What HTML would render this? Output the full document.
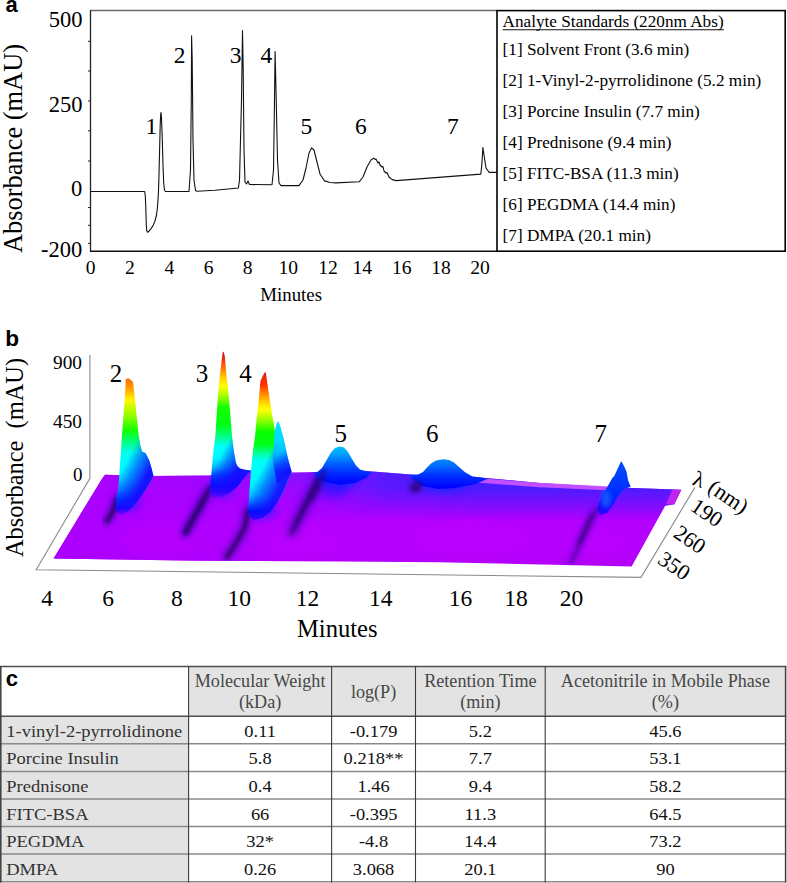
<!DOCTYPE html>
<html><head><meta charset="utf-8"><style>
html,body{margin:0;padding:0;background:#fff;overflow:hidden;width:787px;height:883px;}
svg{display:block;}
</style></head><body>
<svg width="787" height="883" viewBox="0 0 787 883">
<rect width="787" height="883" fill="#fff"/>
<text x="5.5" y="11.8" font-family='"Liberation Sans", sans-serif' font-size="22" text-anchor="start" font-weight="bold" fill="#000" >a</text>
<text x="5.3" y="346.4" font-family='"Liberation Sans", sans-serif' font-size="22.6" text-anchor="start" font-weight="bold" fill="#000" >b</text>
<text x="5.8" y="685.5" font-family='"Liberation Sans", sans-serif' font-size="22" text-anchor="start" font-weight="bold" fill="#000" >c</text>
<line x1="90.5" y1="10.6" x2="497" y2="10.6" stroke="#6a6a6a" stroke-width="1.5"/>
<line x1="90.5" y1="10" x2="90.5" y2="251.5" stroke="#222" stroke-width="1.3"/>
<line x1="90" y1="251.3" x2="497" y2="251.3" stroke="#111" stroke-width="1.4"/>
<line x1="88" y1="41.3" x2="90.5" y2="41.3" stroke="#222" stroke-width="1"/>
<line x1="88" y1="71" x2="90.5" y2="71" stroke="#222" stroke-width="1"/>
<line x1="88" y1="101" x2="90.5" y2="101" stroke="#222" stroke-width="1"/>
<line x1="88" y1="130.8" x2="90.5" y2="130.8" stroke="#222" stroke-width="1"/>
<line x1="88" y1="161" x2="90.5" y2="161" stroke="#222" stroke-width="1"/>
<line x1="88" y1="207.5" x2="90.5" y2="207.5" stroke="#222" stroke-width="1"/>
<line x1="88" y1="225.3" x2="90.5" y2="225.3" stroke="#222" stroke-width="1"/>
<line x1="88" y1="243.4" x2="90.5" y2="243.4" stroke="#222" stroke-width="1"/>
<text x="82.5" y="26.5" font-family='"Liberation Serif", serif' font-size="22.5" text-anchor="end" font-weight="normal" fill="#000" >500</text>
<text x="82.5" y="111.6" font-family='"Liberation Serif", serif' font-size="22.5" text-anchor="end" font-weight="normal" fill="#000" >250</text>
<text x="82.3" y="196" font-family='"Liberation Serif", serif' font-size="22.5" text-anchor="end" font-weight="normal" fill="#000" >0</text>
<text x="82.3" y="256.8" font-family='"Liberation Serif", serif' font-size="22.5" text-anchor="end" font-weight="normal" fill="#000" >-200</text>
<text x="90.6" y="274.4" font-family='"Liberation Serif", serif' font-size="19.6" text-anchor="middle" font-weight="normal" fill="#000" >0</text>
<text x="129.8" y="274.4" font-family='"Liberation Serif", serif' font-size="19.6" text-anchor="middle" font-weight="normal" fill="#000" >2</text>
<text x="169.5" y="274.4" font-family='"Liberation Serif", serif' font-size="19.6" text-anchor="middle" font-weight="normal" fill="#000" >4</text>
<text x="208.6" y="274.4" font-family='"Liberation Serif", serif' font-size="19.6" text-anchor="middle" font-weight="normal" fill="#000" >6</text>
<text x="247.7" y="274.4" font-family='"Liberation Serif", serif' font-size="19.6" text-anchor="middle" font-weight="normal" fill="#000" >8</text>
<text x="288.3" y="274.4" font-family='"Liberation Serif", serif' font-size="19.6" text-anchor="middle" font-weight="normal" fill="#000" >10</text>
<text x="328" y="274.4" font-family='"Liberation Serif", serif' font-size="19.6" text-anchor="middle" font-weight="normal" fill="#000" >12</text>
<text x="362.3" y="274.4" font-family='"Liberation Serif", serif' font-size="19.6" text-anchor="middle" font-weight="normal" fill="#000" >14</text>
<text x="401.7" y="274.4" font-family='"Liberation Serif", serif' font-size="19.6" text-anchor="middle" font-weight="normal" fill="#000" >16</text>
<text x="441" y="274.4" font-family='"Liberation Serif", serif' font-size="19.6" text-anchor="middle" font-weight="normal" fill="#000" >18</text>
<text x="480" y="274.4" font-family='"Liberation Serif", serif' font-size="19.6" text-anchor="middle" font-weight="normal" fill="#000" >20</text>
<text x="260.3" y="300.7" font-family='"Liberation Serif", serif' font-size="18.8" textLength="61.7" lengthAdjust="spacingAndGlyphs">Minutes</text>
<text transform="translate(21.7,253) rotate(-90)" x="0" y="0" font-family='"Liberation Serif", serif' font-size="28" textLength="209" lengthAdjust="spacingAndGlyphs">Absorbance (mAU)</text>
<path d="M91,191.5 L144.7,191.5 L145.3,196 L145.7,205 L146,215 L146.3,225 L146.8,231 L147.6,232.3 L149,231.2 L151,228.7 L153,225.6 L155,221 L156.3,216 L157.3,209 L158,200 L158.5,191 L159,175 L159.6,150 L160.2,125 L160.7,114 L161,112.5 L161.5,118 L162.3,140 L163,165 L163.7,183 L164.5,190 L165.5,191.5 L189,191.5 L190.5,170 L191.3,100 L191.6,35.9 L192.2,60 L193,140 L194,180 L195.5,190.5 L197,191.3 L215,190.3 L238.4,188 L239.5,180 L241.5,100 L242.5,30.6 L243.2,70 L244,150 L245,182 L246.5,184 L248,181 L249.5,184.5 L272,184.8 L273.5,170 L274.5,100 L275.1,51.6 L276,90 L277.5,160 L279,183 L281,185.6 L299,185.6 L303,180 L306,168 L309,153 L311.6,147.9 L314,150 L317,162 L320,174 L324.5,180.9 L330,182.5 L336,182.9 L359.2,181.8 L363,177 L367,167 L371,160 L373.7,158.1 L375,159.5 L376,159 L378,163 L379,162 L380,165 L382,167 L383,166.5 L384,171 L386,173 L387,172.5 L389,177 L392.2,179.6 L396.3,180.6 L480.8,174.1 L481.8,165 L482.9,147.5 L484,155 L486,168 L489.2,172.4 L497,172.4" fill="none" stroke="#111" stroke-width="1.1" stroke-linejoin="round"/>
<text x="145.4" y="134.1" font-family='"Liberation Serif", serif' font-size="23.5" text-anchor="start" font-weight="normal" fill="#000" >1</text>
<text x="173.8" y="62.8" font-family='"Liberation Serif", serif' font-size="23.5" text-anchor="start" font-weight="normal" fill="#000" >2</text>
<text x="229.8" y="62.8" font-family='"Liberation Serif", serif' font-size="23.5" text-anchor="start" font-weight="normal" fill="#000" >3</text>
<text x="260.4" y="62.8" font-family='"Liberation Serif", serif' font-size="23.5" text-anchor="start" font-weight="normal" fill="#000" >4</text>
<text x="300.5" y="134.4" font-family='"Liberation Serif", serif' font-size="23.5" text-anchor="start" font-weight="normal" fill="#000" >5</text>
<text x="355.1" y="134.4" font-family='"Liberation Serif", serif' font-size="23.5" text-anchor="start" font-weight="normal" fill="#000" >6</text>
<text x="447.1" y="134.2" font-family='"Liberation Serif", serif' font-size="23.5" text-anchor="start" font-weight="normal" fill="#000" >7</text>
<rect x="497" y="10.6" width="288.2" height="240.6" fill="none" stroke="#000" stroke-width="1.6"/>
<text x="502.6" y="27.3" font-family='"Liberation Serif", serif' font-size="17.2">Analyte Standards (220nm Abs)</text>
<line x1="502.6" y1="29.8" x2="723.9" y2="29.8" stroke="#111" stroke-width="1.1"/>
<text x="502.6" y="54.8" font-family='"Liberation Serif", serif' font-size="17.2" text-anchor="start" font-weight="normal" fill="#000" >[1] Solvent Front (3.6 min)</text>
<text x="502.6" y="85.9" font-family='"Liberation Serif", serif' font-size="17.2" text-anchor="start" font-weight="normal" fill="#000" >[2] 1-Vinyl-2-pyrrolidinone (5.2 min)</text>
<text x="502.6" y="117.0" font-family='"Liberation Serif", serif' font-size="17.2" text-anchor="start" font-weight="normal" fill="#000" >[3] Porcine Insulin (7.7 min)</text>
<text x="502.6" y="148.1" font-family='"Liberation Serif", serif' font-size="17.2" text-anchor="start" font-weight="normal" fill="#000" >[4] Prednisone (9.4 min)</text>
<text x="502.6" y="179.2" font-family='"Liberation Serif", serif' font-size="17.2" text-anchor="start" font-weight="normal" fill="#000" >[5] FITC-BSA (11.3 min)</text>
<text x="502.6" y="210.3" font-family='"Liberation Serif", serif' font-size="17.2" text-anchor="start" font-weight="normal" fill="#000" >[6] PEGDMA (14.4 min)</text>
<text x="502.6" y="241.4" font-family='"Liberation Serif", serif' font-size="17.2" text-anchor="start" font-weight="normal" fill="#000" >[7] DMPA (20.1 min)</text>
<rect x="188.6" y="666.5" width="597.0" height="49.799999999999955" fill="#e3e3e3"/>
<rect x="0.8" y="716.3" width="187.79999999999998" height="165.5" fill="#e3e3e3"/>
<line x1="0.20000000000000007" y1="666.5" x2="786.2" y2="666.5" stroke="#505050" stroke-width="1.4"/>
<line x1="0.20000000000000007" y1="716.3" x2="786.2" y2="716.3" stroke="#505050" stroke-width="1.4"/>
<line x1="0.20000000000000007" y1="743.8" x2="786.2" y2="743.8" stroke="#8a8a8a" stroke-width="1.4"/>
<line x1="0.20000000000000007" y1="771.5" x2="786.2" y2="771.5" stroke="#8a8a8a" stroke-width="1.4"/>
<line x1="0.20000000000000007" y1="799" x2="786.2" y2="799" stroke="#8a8a8a" stroke-width="1.4"/>
<line x1="0.20000000000000007" y1="826.5" x2="786.2" y2="826.5" stroke="#8a8a8a" stroke-width="1.4"/>
<line x1="0.20000000000000007" y1="854" x2="786.2" y2="854" stroke="#8a8a8a" stroke-width="1.4"/>
<line x1="0.20000000000000007" y1="881.8" x2="786.2" y2="881.8" stroke="#8a8a8a" stroke-width="1.4"/>
<line x1="0.8" y1="665.9" x2="0.8" y2="882.4" stroke="#3c3c3c" stroke-width="1.5"/>
<line x1="188.6" y1="665.9" x2="188.6" y2="882.4" stroke="#3c3c3c" stroke-width="1.1"/>
<line x1="331.6" y1="665.9" x2="331.6" y2="882.4" stroke="#3c3c3c" stroke-width="1.1"/>
<line x1="415.5" y1="665.9" x2="415.5" y2="882.4" stroke="#3c3c3c" stroke-width="1.1"/>
<line x1="545.2" y1="665.9" x2="545.2" y2="882.4" stroke="#3c3c3c" stroke-width="1.1"/>
<line x1="785.6" y1="665.9" x2="785.6" y2="882.4" stroke="#3c3c3c" stroke-width="1.5"/>
<text x="0" y="0" font-family='"Liberation Serif", serif' font-size="17.8" text-anchor="middle" font-weight="normal" fill="#474747" transform="translate(260.1,687.2) scale(1.02,1)">Molecular Weight</text>
<text x="0" y="0" font-family='"Liberation Serif", serif' font-size="17.8" text-anchor="middle" font-weight="normal" fill="#474747" transform="translate(260.1,708) scale(1.02,1)">(kDa)</text>
<text x="0" y="0" font-family='"Liberation Serif", serif' font-size="17.8" text-anchor="middle" font-weight="normal" fill="#474747" transform="translate(373.55,697.5) scale(1.02,1)">log(P)</text>
<text x="0" y="0" font-family='"Liberation Serif", serif' font-size="17.8" text-anchor="middle" font-weight="normal" fill="#474747" transform="translate(480.35,687.2) scale(1.02,1)">Retention Time</text>
<text x="0" y="0" font-family='"Liberation Serif", serif' font-size="17.8" text-anchor="middle" font-weight="normal" fill="#474747" transform="translate(480.35,708) scale(1.02,1)">(min)</text>
<text x="0" y="0" font-family='"Liberation Serif", serif' font-size="17.8" text-anchor="middle" font-weight="normal" fill="#474747" transform="translate(665.4000000000001,687.2) scale(1.02,1)">Acetonitrile in Mobile Phase</text>
<text x="0" y="0" font-family='"Liberation Serif", serif' font-size="17.8" text-anchor="middle" font-weight="normal" fill="#474747" transform="translate(665.4000000000001,708) scale(1.02,1)">(%)</text>
<text x="0" y="0" font-family='"Liberation Serif", serif' font-size="17.4" text-anchor="start" font-weight="normal" fill="#333" transform="translate(6.2,736.8) scale(1.065,1)">1-vinyl-2-pyrrolidinone</text>
<text x="0" y="0" font-family='"Liberation Serif", serif' font-size="17.4" text-anchor="middle" font-weight="normal" fill="#111" transform="translate(260.1,736.8) scale(1.06,1)">0.11</text>
<text x="0" y="0" font-family='"Liberation Serif", serif' font-size="17.4" text-anchor="middle" font-weight="normal" fill="#111" transform="translate(373.55,736.8) scale(1.06,1)">-0.179</text>
<text x="0" y="0" font-family='"Liberation Serif", serif' font-size="17.4" text-anchor="middle" font-weight="normal" fill="#111" transform="translate(480.35,736.8) scale(1.06,1)">5.2</text>
<text x="0" y="0" font-family='"Liberation Serif", serif' font-size="17.4" text-anchor="middle" font-weight="normal" fill="#111" transform="translate(665.4000000000001,736.8) scale(1.06,1)">45.6</text>
<text x="0" y="0" font-family='"Liberation Serif", serif' font-size="17.4" text-anchor="start" font-weight="normal" fill="#333" transform="translate(6.2,764.3) scale(1.065,1)">Porcine Insulin</text>
<text x="0" y="0" font-family='"Liberation Serif", serif' font-size="17.4" text-anchor="middle" font-weight="normal" fill="#111" transform="translate(260.1,764.3) scale(1.06,1)">5.8</text>
<text x="0" y="0" font-family='"Liberation Serif", serif' font-size="17.4" text-anchor="middle" font-weight="normal" fill="#111" transform="translate(373.55,764.3) scale(1.06,1)">0.218**</text>
<text x="0" y="0" font-family='"Liberation Serif", serif' font-size="17.4" text-anchor="middle" font-weight="normal" fill="#111" transform="translate(480.35,764.3) scale(1.06,1)">7.7</text>
<text x="0" y="0" font-family='"Liberation Serif", serif' font-size="17.4" text-anchor="middle" font-weight="normal" fill="#111" transform="translate(665.4000000000001,764.3) scale(1.06,1)">53.1</text>
<text x="0" y="0" font-family='"Liberation Serif", serif' font-size="17.4" text-anchor="start" font-weight="normal" fill="#333" transform="translate(6.2,792.0) scale(1.065,1)">Prednisone</text>
<text x="0" y="0" font-family='"Liberation Serif", serif' font-size="17.4" text-anchor="middle" font-weight="normal" fill="#111" transform="translate(260.1,792.0) scale(1.06,1)">0.4</text>
<text x="0" y="0" font-family='"Liberation Serif", serif' font-size="17.4" text-anchor="middle" font-weight="normal" fill="#111" transform="translate(373.55,792.0) scale(1.06,1)">1.46</text>
<text x="0" y="0" font-family='"Liberation Serif", serif' font-size="17.4" text-anchor="middle" font-weight="normal" fill="#111" transform="translate(480.35,792.0) scale(1.06,1)">9.4</text>
<text x="0" y="0" font-family='"Liberation Serif", serif' font-size="17.4" text-anchor="middle" font-weight="normal" fill="#111" transform="translate(665.4000000000001,792.0) scale(1.06,1)">58.2</text>
<text x="0" y="0" font-family='"Liberation Serif", serif' font-size="17.4" text-anchor="start" font-weight="normal" fill="#333" transform="translate(6.2,819.5) scale(1.065,1)">FITC-BSA</text>
<text x="0" y="0" font-family='"Liberation Serif", serif' font-size="17.4" text-anchor="middle" font-weight="normal" fill="#111" transform="translate(260.1,819.5) scale(1.06,1)">66</text>
<text x="0" y="0" font-family='"Liberation Serif", serif' font-size="17.4" text-anchor="middle" font-weight="normal" fill="#111" transform="translate(373.55,819.5) scale(1.06,1)">-0.395</text>
<text x="0" y="0" font-family='"Liberation Serif", serif' font-size="17.4" text-anchor="middle" font-weight="normal" fill="#111" transform="translate(480.35,819.5) scale(1.06,1)">11.3</text>
<text x="0" y="0" font-family='"Liberation Serif", serif' font-size="17.4" text-anchor="middle" font-weight="normal" fill="#111" transform="translate(665.4000000000001,819.5) scale(1.06,1)">64.5</text>
<text x="0" y="0" font-family='"Liberation Serif", serif' font-size="17.4" text-anchor="start" font-weight="normal" fill="#333" transform="translate(6.2,847.0) scale(1.065,1)">PEGDMA</text>
<text x="0" y="0" font-family='"Liberation Serif", serif' font-size="17.4" text-anchor="middle" font-weight="normal" fill="#111" transform="translate(260.1,847.0) scale(1.06,1)">32*</text>
<text x="0" y="0" font-family='"Liberation Serif", serif' font-size="17.4" text-anchor="middle" font-weight="normal" fill="#111" transform="translate(373.55,847.0) scale(1.06,1)">-4.8</text>
<text x="0" y="0" font-family='"Liberation Serif", serif' font-size="17.4" text-anchor="middle" font-weight="normal" fill="#111" transform="translate(480.35,847.0) scale(1.06,1)">14.4</text>
<text x="0" y="0" font-family='"Liberation Serif", serif' font-size="17.4" text-anchor="middle" font-weight="normal" fill="#111" transform="translate(665.4000000000001,847.0) scale(1.06,1)">73.2</text>
<text x="0" y="0" font-family='"Liberation Serif", serif' font-size="17.4" text-anchor="start" font-weight="normal" fill="#333" transform="translate(6.2,874.5) scale(1.065,1)">DMPA</text>
<text x="0" y="0" font-family='"Liberation Serif", serif' font-size="17.4" text-anchor="middle" font-weight="normal" fill="#111" transform="translate(260.1,874.5) scale(1.06,1)">0.26</text>
<text x="0" y="0" font-family='"Liberation Serif", serif' font-size="17.4" text-anchor="middle" font-weight="normal" fill="#111" transform="translate(373.55,874.5) scale(1.06,1)">3.068</text>
<text x="0" y="0" font-family='"Liberation Serif", serif' font-size="17.4" text-anchor="middle" font-weight="normal" fill="#111" transform="translate(480.35,874.5) scale(1.06,1)">20.1</text>
<text x="0" y="0" font-family='"Liberation Serif", serif' font-size="17.4" text-anchor="middle" font-weight="normal" fill="#111" transform="translate(665.4000000000001,874.5) scale(1.06,1)">90</text>
<defs><filter id="bl05" x="-50%" y="-50%" width="200%" height="200%"><feGaussianBlur stdDeviation="0.6"/></filter><filter id="bl1" x="-50%" y="-50%" width="200%" height="200%"><feGaussianBlur stdDeviation="1.2"/></filter><filter id="bl2" x="-50%" y="-50%" width="200%" height="200%"><feGaussianBlur stdDeviation="2.2"/></filter><filter id="bl3" x="-50%" y="-50%" width="200%" height="200%"><feGaussianBlur stdDeviation="3.2"/></filter><filter id="bl4" x="-50%" y="-50%" width="200%" height="200%"><feGaussianBlur stdDeviation="4.5"/></filter><linearGradient id="plane" gradientUnits="userSpaceOnUse" x1="0" y1="476" x2="0" y2="563"><stop offset="0" stop-color="#8a10ff" stop-opacity="1"/><stop offset="0.3" stop-color="#a404ff" stop-opacity="1"/><stop offset="0.56" stop-color="#b600ff" stop-opacity="1"/><stop offset="1" stop-color="#b400fa" stop-opacity="1"/></linearGradient><linearGradient id="planeL" gradientUnits="userSpaceOnUse" x1="70" y1="0" x2="300" y2="0"><stop offset="0" stop-color="#ac00ff" stop-opacity="1"/><stop offset="0.5" stop-color="#ac00ff" stop-opacity="0.7"/><stop offset="1" stop-color="#ac00ff" stop-opacity="0"/></linearGradient><linearGradient id="btint" gradientUnits="userSpaceOnUse" x1="0" y1="486" x2="0" y2="520"><stop offset="0" stop-color="#3a20ff" stop-opacity="0.85"/><stop offset="0.4" stop-color="#3a20ff" stop-opacity="0.5"/><stop offset="1" stop-color="#3a20ff" stop-opacity="0"/></linearGradient><linearGradient id="bmask" gradientUnits="userSpaceOnUse" x1="300" y1="0" x2="470" y2="0"><stop offset="0" stop-color="#fff" stop-opacity="0"/><stop offset="0.5" stop-color="#fff" stop-opacity="0.75"/><stop offset="1" stop-color="#fff" stop-opacity="1"/></linearGradient><mask id="bm" maskUnits="userSpaceOnUse" x="0" y="0" width="787" height="883"><rect x="0" y="440" width="787" height="140" fill="url(#bmask)"/></mask><linearGradient id="p2" gradientUnits="userSpaceOnUse" x1="0" y1="378" x2="0" y2="518"><stop offset="0.0" stop-color="#ff6600" stop-opacity="1"/><stop offset="0.0857" stop-color="#ffaa00" stop-opacity="1"/><stop offset="0.1571" stop-color="#fff700" stop-opacity="1"/><stop offset="0.2643" stop-color="#95ff00" stop-opacity="1"/><stop offset="0.3714" stop-color="#15ff00" stop-opacity="1"/><stop offset="0.4571" stop-color="#00ff80" stop-opacity="1"/><stop offset="0.5286" stop-color="#00ffea" stop-opacity="1"/><stop offset="0.6214" stop-color="#00fbff" stop-opacity="1"/><stop offset="0.7143" stop-color="#00eaff" stop-opacity="1"/><stop offset="0.8" stop-color="#00aaff" stop-opacity="1"/><stop offset="0.8714" stop-color="#0040ff" stop-opacity="1"/><stop offset="0.9286" stop-color="#1500ff" stop-opacity="0.85"/><stop offset="1.0" stop-color="#5d00ff" stop-opacity="0"/></linearGradient><linearGradient id="p2d" gradientUnits="userSpaceOnUse" x1="124" y1="466" x2="146" y2="477"><stop offset="0" stop-color="#0818ff" stop-opacity="0"/><stop offset="0.4" stop-color="#0818ff" stop-opacity="0.45"/><stop offset="1" stop-color="#1808ff" stop-opacity="0.95"/></linearGradient><linearGradient id="m2g" gradientUnits="userSpaceOnUse" x1="0" y1="500" x2="0" y2="517"><stop offset="0" stop-color="#fff" stop-opacity="1"/><stop offset="1" stop-color="#fff" stop-opacity="0"/></linearGradient><mask id="m2" maskUnits="userSpaceOnUse" x="0" y="300" width="787" height="300"><rect x="0" y="300" width="787" height="300" fill="url(#m2g)"/></mask><linearGradient id="p3" gradientUnits="userSpaceOnUse" x1="0" y1="352" x2="0" y2="500"><stop offset="0.0" stop-color="#c81c1c" stop-opacity="1"/><stop offset="0.0473" stop-color="#ee2a0a" stop-opacity="1"/><stop offset="0.1081" stop-color="#ff7700" stop-opacity="1"/><stop offset="0.1689" stop-color="#ffcc00" stop-opacity="1"/><stop offset="0.2297" stop-color="#ffff00" stop-opacity="1"/><stop offset="0.2973" stop-color="#a2ff00" stop-opacity="1"/><stop offset="0.3716" stop-color="#15ff00" stop-opacity="1"/><stop offset="0.4932" stop-color="#00ff15" stop-opacity="1"/><stop offset="0.5676" stop-color="#00ff80" stop-opacity="1"/><stop offset="0.6351" stop-color="#00fff7" stop-opacity="1"/><stop offset="0.7162" stop-color="#00f7ff" stop-opacity="1"/><stop offset="0.777" stop-color="#00bfff" stop-opacity="1"/><stop offset="0.8378" stop-color="#0040ff" stop-opacity="1"/><stop offset="0.9054" stop-color="#1500ff" stop-opacity="1"/><stop offset="0.9527" stop-color="#4000ff" stop-opacity="0.8"/><stop offset="1.0" stop-color="#6a00ff" stop-opacity="0"/></linearGradient><linearGradient id="p3d" gradientUnits="userSpaceOnUse" x1="217" y1="462" x2="236" y2="472"><stop offset="0" stop-color="#0818ff" stop-opacity="0"/><stop offset="0.4" stop-color="#0818ff" stop-opacity="0.45"/><stop offset="1" stop-color="#1808ff" stop-opacity="0.92"/></linearGradient><linearGradient id="m3g" gradientUnits="userSpaceOnUse" x1="0" y1="484" x2="0" y2="499"><stop offset="0" stop-color="#fff" stop-opacity="1"/><stop offset="1" stop-color="#fff" stop-opacity="0"/></linearGradient><mask id="m3" maskUnits="userSpaceOnUse" x="0" y="300" width="787" height="300"><rect x="0" y="300" width="787" height="300" fill="url(#m3g)"/></mask><linearGradient id="p4" gradientUnits="userSpaceOnUse" x1="0" y1="372" x2="0" y2="528"><stop offset="0.0" stop-color="#d81c12" stop-opacity="1"/><stop offset="0.0385" stop-color="#f02a08" stop-opacity="1"/><stop offset="0.0833" stop-color="#ff3300" stop-opacity="1"/><stop offset="0.1346" stop-color="#ff8000" stop-opacity="1"/><stop offset="0.2115" stop-color="#ffea00" stop-opacity="1"/><stop offset="0.2436" stop-color="#ffff00" stop-opacity="1"/><stop offset="0.3077" stop-color="#95ff00" stop-opacity="1"/><stop offset="0.3846" stop-color="#08ff00" stop-opacity="1"/><stop offset="0.4615" stop-color="#00ff15" stop-opacity="1"/><stop offset="0.5192" stop-color="#00ff95" stop-opacity="1"/><stop offset="0.5705" stop-color="#00fff7" stop-opacity="1"/><stop offset="0.6923" stop-color="#00f7ff" stop-opacity="1"/><stop offset="0.7885" stop-color="#00d4ff" stop-opacity="1"/><stop offset="0.8397" stop-color="#0080ff" stop-opacity="1"/><stop offset="0.891" stop-color="#0008ff" stop-opacity="1"/><stop offset="0.9487" stop-color="#4000ff" stop-opacity="0.8"/><stop offset="1.0" stop-color="#6a00ff" stop-opacity="0"/></linearGradient><linearGradient id="p4d" gradientUnits="userSpaceOnUse" x1="257" y1="478" x2="279" y2="489"><stop offset="0" stop-color="#0818ff" stop-opacity="0"/><stop offset="0.4" stop-color="#0818ff" stop-opacity="0.45"/><stop offset="1" stop-color="#1808ff" stop-opacity="0.92"/></linearGradient><linearGradient id="m4g" gradientUnits="userSpaceOnUse" x1="0" y1="508" x2="0" y2="527"><stop offset="0" stop-color="#fff" stop-opacity="1"/><stop offset="1" stop-color="#fff" stop-opacity="0"/></linearGradient><mask id="m4" maskUnits="userSpaceOnUse" x="0" y="300" width="787" height="300"><rect x="0" y="300" width="787" height="300" fill="url(#m4g)"/></mask><linearGradient id="p4b" gradientUnits="userSpaceOnUse" x1="0" y1="420" x2="0" y2="472"><stop offset="0.0" stop-color="#00e5ff" stop-opacity="1"/><stop offset="0.3846" stop-color="#00d9ff" stop-opacity="1"/><stop offset="0.6154" stop-color="#00bfff" stop-opacity="1"/><stop offset="0.8077" stop-color="#0080ff" stop-opacity="1"/><stop offset="1.0" stop-color="#0033ff" stop-opacity="1"/></linearGradient><linearGradient id="p4bd" gradientUnits="userSpaceOnUse" x1="278" y1="455" x2="292" y2="468"><stop offset="0" stop-color="#0818ff" stop-opacity="0"/><stop offset="1" stop-color="#1808ff" stop-opacity="0.8"/></linearGradient><linearGradient id="p5" gradientUnits="userSpaceOnUse" x1="0" y1="446" x2="0" y2="482"><stop offset="0" stop-color="#00c3ff" stop-opacity="1"/><stop offset="0.22" stop-color="#00a2ff" stop-opacity="1"/><stop offset="0.5" stop-color="#005eff" stop-opacity="1"/><stop offset="0.8" stop-color="#0022ff" stop-opacity="1"/><stop offset="1" stop-color="#0008ff" stop-opacity="1"/></linearGradient><linearGradient id="p6" gradientUnits="userSpaceOnUse" x1="0" y1="459" x2="0" y2="488"><stop offset="0" stop-color="#008cff" stop-opacity="1"/><stop offset="0.25" stop-color="#006aff" stop-opacity="1"/><stop offset="0.55" stop-color="#0033ff" stop-opacity="1"/><stop offset="1" stop-color="#0000ff" stop-opacity="1"/></linearGradient><linearGradient id="p7" gradientUnits="userSpaceOnUse" x1="0" y1="461" x2="0" y2="525"><stop offset="0" stop-color="#004cff" stop-opacity="1"/><stop offset="0.3" stop-color="#003cff" stop-opacity="1"/><stop offset="0.6" stop-color="#0022ff" stop-opacity="1"/><stop offset="0.85" stop-color="#1500ff" stop-opacity="0.8"/><stop offset="1" stop-color="#5d00ff" stop-opacity="0"/></linearGradient></defs>
<path d="M89.9,355.1 L89.9,478.4 L36.2,569.7 L641,577.4 L694.9,487.4" fill="none" stroke="#8a8a8a" stroke-width="1.1"/>
<clipPath id="planeclip"><path d="M105.0,474.7 L150.0,476.0 L209.0,475.5 L214.0,475.0 L236.0,470.2 L252.0,470.6 L290.0,472.5 L318.0,472.0 L363.4,470.7 L414.0,474.7 L480.0,477.4 L539.1,483.0 L605.2,486.9 L681.2,489.8 L674.3,504.2 L665.2,505.7 L631.6,566.5 L440.0,562.2 L340.0,561.5 L200.0,560.8 L53.6,558.4 L102.2,478.4Z"/></clipPath>
<path d="M105.0,474.7 L150.0,476.0 L209.0,475.5 L214.0,475.0 L236.0,470.2 L252.0,470.6 L290.0,472.5 L318.0,472.0 L363.4,470.7 L414.0,474.7 L480.0,477.4 L539.1,483.0 L605.2,486.9 L681.2,489.8 L674.3,504.2 L665.2,505.7 L631.6,566.5 L440.0,562.2 L340.0,561.5 L200.0,560.8 L53.6,558.4 L102.2,478.4Z" fill="url(#plane)" />
<path d="M105.0,474.7 L150.0,476.0 L209.0,475.5 L214.0,475.0 L236.0,470.2 L252.0,470.6 L290.0,472.5 L318.0,472.0 L363.4,470.7 L414.0,474.7 L480.0,477.4 L539.1,483.0 L605.2,486.9 L681.2,489.8 L674.3,504.2 L665.2,505.7 L631.6,566.5 L440.0,562.2 L340.0,561.5 L200.0,560.8 L53.6,558.4 L102.2,478.4Z" fill="url(#planeL)" />
<g clip-path="url(#planeclip)">
<path d="M280.0,465.0 L700.0,465.0 L700.0,560.0 L280.0,560.0Z" fill="url(#btint)" mask="url(#bm)"/>
<ellipse cx="160" cy="540" rx="40" ry="18" fill="#c400ff" opacity="0.35" filter="url(#bl4)"/>
<ellipse cx="300" cy="545" rx="40" ry="16" fill="#c400ff" opacity="0.35" filter="url(#bl4)"/>
<ellipse cx="470" cy="540" rx="60" ry="18" fill="#c400ff" opacity="0.35" filter="url(#bl4)"/>
<ellipse cx="600" cy="545" rx="25" ry="15" fill="#c400ff" opacity="0.35" filter="url(#bl4)"/>
</g>
<path d="M470.0,477.4 L539.1,482.8 L612.0,486.6 L612.0,490.5 L539.0,487.3 L470.0,482.0Z" fill="#d858ff" opacity="0.85" filter="url(#bl05)"/>
<path d="M672.0,490.0 L681.2,490.0 L674.3,504.2 L666.0,504.2Z" fill="#c224f2" />
<g clip-path="url(#planeclip)">
<path d="M117.0,499.0 L113.0,511.0 L107.0,521.0" fill="none" stroke="#4010c0" stroke-width="10.920000000000002" stroke-linecap="round" stroke-linejoin="round" opacity="0.4275" filter="url(#bl3)"/>
<path d="M117.0,499.0 L113.0,511.0 L107.0,521.0" fill="none" stroke="#32006a" stroke-width="4.620000000000001" stroke-linecap="round" stroke-linejoin="round" opacity="0.9974999999999999" filter="url(#bl2)"/>
<path d="M117.0,499.0 L113.0,511.0 L107.0,521.0" fill="none" stroke="#32006a" stroke-width="1.8900000000000001" stroke-linecap="round" stroke-linejoin="round" opacity="0.285" filter="url(#bl05)"/>
</g>
<g clip-path="url(#planeclip)"><ellipse cx="128" cy="502" rx="12" ry="10" fill="#1020ff" opacity="0.55" filter="url(#bl3)"/></g>
<path d="M125.8,379.0 L128.5,378.3 L133.0,381.8 L135.7,406.2 L138.4,433.3 L140.5,446.0 L142.1,451.4 L145.7,453.3 L149.3,460.5 L151.5,468.0 L153.5,476.0 L148.0,486.0 L142.0,495.0 L135.0,504.0 L128.0,511.0 L120.0,515.0 L115.5,510.0 L116.5,500.0 L118.5,485.8 L120.3,460.5 L122.1,433.3 L124.9,397.1Z" fill="url(#p2)" />
<path d="M125.8,379.0 L128.5,378.3 L133.0,381.8 L135.7,406.2 L138.4,433.3 L140.5,446.0 L142.1,451.4 L145.7,453.3 L149.3,460.5 L151.5,468.0 L153.5,476.0 L148.0,486.0 L142.0,495.0 L135.0,504.0 L128.0,511.0 L120.0,515.0 L115.5,510.0 L116.5,500.0 L118.5,485.8 L120.3,460.5 L122.1,433.3 L124.9,397.1Z" fill="url(#p2d)" mask="url(#m2)"/>
<g clip-path="url(#planeclip)">
<path d="M210.0,488.0 L200.0,507.0 L192.0,520.0 L185.0,533.0" fill="none" stroke="#4010c0" stroke-width="11.440000000000001" stroke-linecap="round" stroke-linejoin="round" opacity="0.3825" filter="url(#bl3)"/>
<path d="M210.0,488.0 L200.0,507.0 L192.0,520.0 L185.0,533.0" fill="none" stroke="#32006a" stroke-width="4.840000000000001" stroke-linecap="round" stroke-linejoin="round" opacity="0.8925" filter="url(#bl2)"/>
<path d="M210.0,488.0 L200.0,507.0 L192.0,520.0 L185.0,533.0" fill="none" stroke="#32006a" stroke-width="1.9800000000000002" stroke-linecap="round" stroke-linejoin="round" opacity="0.255" filter="url(#bl05)"/>
</g>
<g clip-path="url(#planeclip)">
<path d="M204.0,498.0 L195.0,515.0 L187.0,532.0" fill="none" stroke="#4010c0" stroke-width="7.800000000000001" stroke-linecap="round" stroke-linejoin="round" opacity="0.27" filter="url(#bl3)"/>
<path d="M204.0,498.0 L195.0,515.0 L187.0,532.0" fill="none" stroke="#2a0062" stroke-width="3.3000000000000003" stroke-linecap="round" stroke-linejoin="round" opacity="0.63" filter="url(#bl2)"/>
<path d="M204.0,498.0 L195.0,515.0 L187.0,532.0" fill="none" stroke="#2a0062" stroke-width="1.35" stroke-linecap="round" stroke-linejoin="round" opacity="0.18" filter="url(#bl05)"/>
</g>
<g clip-path="url(#planeclip)"><ellipse cx="221" cy="490" rx="12" ry="8" fill="#1020ff" opacity="0.5" filter="url(#bl3)"/></g>
<path d="M222.6,352.5 L223.6,351.5 L224.8,356.0 L226.5,375.0 L228.3,390.9 L230.0,410.0 L232.1,436.7 L234.0,452.0 L235.9,462.7 L237.5,466.2 L240.0,468.4 L245.0,469.8 L251.0,470.8 L247.0,474.5 L243.0,479.0 L238.0,486.0 L231.0,492.0 L222.0,497.0 L214.0,497.5 L210.5,494.0 L210.0,488.7 L211.5,471.9 L213.5,450.0 L215.3,436.7 L217.0,410.0 L218.3,390.9 L220.5,370.0Z" fill="url(#p3)" />
<path d="M222.6,352.5 L223.6,351.5 L224.8,356.0 L226.5,375.0 L228.3,390.9 L230.0,410.0 L232.1,436.7 L234.0,452.0 L235.9,462.7 L237.5,466.2 L240.0,468.4 L245.0,469.8 L251.0,470.8 L247.0,474.5 L243.0,479.0 L238.0,486.0 L231.0,492.0 L222.0,497.0 L214.0,497.5 L210.5,494.0 L210.0,488.7 L211.5,471.9 L213.5,450.0 L215.3,436.7 L217.0,410.0 L218.3,390.9 L220.5,370.0Z" fill="url(#p3d)" mask="url(#m3)"/>
<g clip-path="url(#planeclip)">
<path d="M248.0,510.0 L244.7,527.8 L236.0,543.0 L227.0,557.0" fill="none" stroke="#4010c0" stroke-width="11.959999999999999" stroke-linecap="round" stroke-linejoin="round" opacity="0.3825" filter="url(#bl3)"/>
<path d="M248.0,510.0 L244.7,527.8 L236.0,543.0 L227.0,557.0" fill="none" stroke="#32006a" stroke-width="5.06" stroke-linecap="round" stroke-linejoin="round" opacity="0.8925" filter="url(#bl2)"/>
<path d="M248.0,510.0 L244.7,527.8 L236.0,543.0 L227.0,557.0" fill="none" stroke="#32006a" stroke-width="2.07" stroke-linecap="round" stroke-linejoin="round" opacity="0.255" filter="url(#bl05)"/>
</g>
<g clip-path="url(#planeclip)"><ellipse cx="262" cy="510" rx="14" ry="10" fill="#1020ff" opacity="0.5" filter="url(#bl3)"/></g>
<path d="M264.5,372.8 L265.8,372.0 L267.3,383.2 L269.5,398.0 L271.9,413.8 L273.5,422.0 L274.9,430.6 L277.5,445.0 L280.0,460.0 L283.0,470.0 L291.7,472.5 L288.0,480.0 L283.0,492.0 L277.0,503.0 L270.0,512.0 L262.0,518.0 L254.0,520.0 L249.0,516.0 L248.3,510.0 L249.5,490.0 L251.0,470.0 L253.0,450.0 L255.0,436.7 L256.5,420.0 L258.1,406.2 L259.5,392.0 L260.4,380.9 L262.5,376.5Z" fill="url(#p4)" />
<path d="M264.5,372.8 L265.8,372.0 L267.3,383.2 L269.5,398.0 L271.9,413.8 L273.5,422.0 L274.9,430.6 L277.5,445.0 L280.0,460.0 L283.0,470.0 L291.7,472.5 L288.0,480.0 L283.0,492.0 L277.0,503.0 L270.0,512.0 L262.0,518.0 L254.0,520.0 L249.0,516.0 L248.3,510.0 L249.5,490.0 L251.0,470.0 L253.0,450.0 L255.0,436.7 L256.5,420.0 L258.1,406.2 L259.5,392.0 L260.4,380.9 L262.5,376.5Z" fill="url(#p4d)" mask="url(#m4)"/>
<path d="M274.5,432.0 L276.5,424.0 L278.3,420.7 L280.5,427.0 L283.3,436.7 L285.5,447.0 L287.9,458.1 L290.0,466.0 L291.7,471.9 L285.0,478.0 L277.0,484.0 L273.0,460.0Z" fill="url(#p4b)" />
<path d="M274.5,432.0 L276.5,424.0 L278.3,420.7 L280.5,427.0 L283.3,436.7 L285.5,447.0 L287.9,458.1 L290.0,466.0 L291.7,471.9 L285.0,478.0 L277.0,484.0 L273.0,460.0Z" fill="url(#p4bd)" />
<g clip-path="url(#planeclip)">
<path d="M322.0,474.0 L312.0,492.0 L302.0,512.0 L292.0,532.0" fill="none" stroke="#4010c0" stroke-width="15.600000000000001" stroke-linecap="round" stroke-linejoin="round" opacity="0.27" filter="url(#bl3)"/>
<path d="M322.0,474.0 L312.0,492.0 L302.0,512.0 L292.0,532.0" fill="none" stroke="#36007e" stroke-width="6.6000000000000005" stroke-linecap="round" stroke-linejoin="round" opacity="0.63" filter="url(#bl2)"/>
<path d="M322.0,474.0 L312.0,492.0 L302.0,512.0 L292.0,532.0" fill="none" stroke="#36007e" stroke-width="2.7" stroke-linecap="round" stroke-linejoin="round" opacity="0.18" filter="url(#bl05)"/>
</g>
<g clip-path="url(#planeclip)">
<path d="M320.0,478.0 L311.0,494.0 L303.0,510.0 L296.0,524.0" fill="none" stroke="#4010c0" stroke-width="6.760000000000001" stroke-linecap="round" stroke-linejoin="round" opacity="0.27" filter="url(#bl3)"/>
<path d="M320.0,478.0 L311.0,494.0 L303.0,510.0 L296.0,524.0" fill="none" stroke="#2c0066" stroke-width="2.8600000000000003" stroke-linecap="round" stroke-linejoin="round" opacity="0.63" filter="url(#bl2)"/>
<path d="M320.0,478.0 L311.0,494.0 L303.0,510.0 L296.0,524.0" fill="none" stroke="#2c0066" stroke-width="1.1700000000000002" stroke-linecap="round" stroke-linejoin="round" opacity="0.18" filter="url(#bl05)"/>
</g>
<g clip-path="url(#planeclip)"><ellipse cx="338" cy="479" rx="20" ry="11" fill="#1428ff" opacity="0.85" filter="url(#bl3)"/></g>
<g clip-path="url(#planeclip)"><ellipse cx="333" cy="490" rx="14" ry="9" fill="#3010ff" opacity="0.5" filter="url(#bl3)"/></g>
<path d="M314.0,473.0 L318.0,471.5 L322.0,468.0 L326.0,461.0 L331.0,452.5 L335.0,448.0 L339.9,446.5 L344.0,447.5 L348.0,452.0 L352.0,459.0 L356.0,465.5 L360.0,469.5 L365.0,471.0 L372.0,472.5 L366.0,478.0 L355.0,483.0 L340.0,485.0 L325.0,482.0 L318.0,478.0Z" fill="url(#p5)" />
<clipPath id="cp5u"><path d="M314.0,473.0 L318.0,471.5 L322.0,468.0 L326.0,461.0 L331.0,452.5 L335.0,448.0 L339.9,446.5 L344.0,447.5 L348.0,452.0 L352.0,459.0 L356.0,465.5 L360.0,469.5 L365.0,471.0 L372.0,472.5 L366.0,478.0 L355.0,483.0 L340.0,485.0 L325.0,482.0 L318.0,478.0Z"/><path d="M105.0,474.7 L150.0,476.0 L209.0,475.5 L214.0,475.0 L236.0,470.2 L252.0,470.6 L290.0,472.5 L318.0,472.0 L363.4,470.7 L414.0,474.7 L480.0,477.4 L539.1,483.0 L605.2,486.9 L681.2,489.8 L674.3,504.2 L665.2,505.7 L631.6,566.5 L440.0,562.2 L340.0,561.5 L200.0,560.8 L53.6,558.4 L102.2,478.4Z"/></clipPath>
<g clip-path="url(#cp5u)">
<path d="M322,468 L317,480 L311,493 L309,501 L314,502 L320,490 L326,477 L327,470Z" fill="#2c0078" opacity="0.55" filter="url(#bl2)"/>
</g>
<g clip-path="url(#planeclip)"><ellipse cx="444" cy="482" rx="24" ry="10" fill="#1428ff" opacity="0.8" filter="url(#bl3)"/></g>
<path d="M410.0,475.0 L418.0,474.5 L423.0,472.0 L427.0,467.5 L431.0,463.5 L436.0,460.5 L443.4,459.3 L449.0,460.0 L454.0,462.5 L459.0,467.0 L464.8,472.0 L472.0,476.2 L480.0,477.6 L488.0,478.4 L476.0,484.0 L455.0,488.0 L438.0,489.0 L422.0,486.0 L413.0,480.0Z" fill="url(#p6)" />
<g clip-path="url(#planeclip)"><ellipse cx="416" cy="487" rx="7" ry="6" transform="rotate(-40 416 487)" fill="#2a0070" opacity="0.7" filter="url(#bl2)"/></g>
<g clip-path="url(#planeclip)">
<path d="M598.0,508.0 L591.0,520.0 L584.0,535.0 L577.0,550.0 L571.0,562.0" fill="none" stroke="#4010c0" stroke-width="10.4" stroke-linecap="round" stroke-linejoin="round" opacity="0.2025" filter="url(#bl3)"/>
<path d="M598.0,508.0 L591.0,520.0 L584.0,535.0 L577.0,550.0 L571.0,562.0" fill="none" stroke="#3a0088" stroke-width="4.4" stroke-linecap="round" stroke-linejoin="round" opacity="0.47250000000000003" filter="url(#bl2)"/>
<path d="M598.0,508.0 L591.0,520.0 L584.0,535.0 L577.0,550.0 L571.0,562.0" fill="none" stroke="#3a0088" stroke-width="1.8" stroke-linecap="round" stroke-linejoin="round" opacity="0.135" filter="url(#bl05)"/>
</g>
<g clip-path="url(#planeclip)">
<path d="M592.0,515.0 L585.0,530.0 L579.0,543.0" fill="none" stroke="#4010c0" stroke-width="5.720000000000001" stroke-linecap="round" stroke-linejoin="round" opacity="0.315" filter="url(#bl3)"/>
<path d="M592.0,515.0 L585.0,530.0 L579.0,543.0" fill="none" stroke="#2c0066" stroke-width="2.4200000000000004" stroke-linecap="round" stroke-linejoin="round" opacity="0.735" filter="url(#bl2)"/>
<path d="M592.0,515.0 L585.0,530.0 L579.0,543.0" fill="none" stroke="#2c0066" stroke-width="0.9900000000000001" stroke-linecap="round" stroke-linejoin="round" opacity="0.21" filter="url(#bl05)"/>
</g>
<path d="M620.6,462.2 L621.6,461.5 L624.0,466.0 L626.6,471.8 L628.0,479.9 L630.7,486.7 L624.0,489.0 L618.0,496.0 L613.0,505.0 L607.0,513.0 L600.0,515.0 L597.4,508.5 L599.4,501.7 L602.1,494.5 L606.0,489.0 L609.0,484.0 L612.0,478.5 L614.4,475.8 L617.5,469.0Z" fill="url(#p7)" />
<g clip-path="url(#planeclip)"><ellipse cx="606" cy="499" rx="5" ry="9" fill="#1a66ff" opacity="0.7" filter="url(#bl2)"/></g>
<text x="109.7" y="381.9" font-family='"Liberation Serif", serif' font-size="25">2</text>
<text x="195.70000000000002" y="381.6" font-family='"Liberation Serif", serif' font-size="25">3</text>
<text x="239.20000000000002" y="381.6" font-family='"Liberation Serif", serif' font-size="25">4</text>
<text x="334.4" y="441.8" font-family='"Liberation Serif", serif' font-size="25">5</text>
<text x="426.09999999999997" y="442" font-family='"Liberation Serif", serif' font-size="25">6</text>
<text x="594.4" y="442.4" font-family='"Liberation Serif", serif' font-size="25">7</text>
<text x="53" y="368.8" font-family='"Liberation Serif", serif' font-size="19" textLength="29" lengthAdjust="spacingAndGlyphs">900</text>
<text x="53" y="427.9" font-family='"Liberation Serif", serif' font-size="19" textLength="29" lengthAdjust="spacingAndGlyphs">450</text>
<text x="82.4" y="480.6" font-family='"Liberation Serif", serif' font-size="19" text-anchor="end">0</text>
<text x="47.15" y="606.4" font-family='"Liberation Serif", serif' font-size="23.5" text-anchor="middle">4</text>
<text x="108.15" y="606.4" font-family='"Liberation Serif", serif' font-size="23.5" text-anchor="middle">6</text>
<text x="176.75" y="606.4" font-family='"Liberation Serif", serif' font-size="23.5" text-anchor="middle">8</text>
<text x="239.3" y="606.4" font-family='"Liberation Serif", serif' font-size="23.5" text-anchor="middle">10</text>
<text x="307.45000000000005" y="606.4" font-family='"Liberation Serif", serif' font-size="23.5" text-anchor="middle">12</text>
<text x="380.65" y="606.4" font-family='"Liberation Serif", serif' font-size="23.5" text-anchor="middle">14</text>
<text x="460.4" y="606.4" font-family='"Liberation Serif", serif' font-size="23.5" text-anchor="middle">16</text>
<text x="516.0999999999999" y="606.4" font-family='"Liberation Serif", serif' font-size="23.5" text-anchor="middle">18</text>
<text x="571.4" y="606.4" font-family='"Liberation Serif", serif' font-size="23.5" text-anchor="middle">20</text>
<text x="297" y="637" font-family='"Liberation Serif", serif' font-size="25" textLength="80.5" lengthAdjust="spacingAndGlyphs">Minutes</text>
<text transform="translate(22.6,557) rotate(-90)" font-family='"Liberation Serif", serif' font-size="25.8" textLength="199" lengthAdjust="spacingAndGlyphs" xml:space="preserve">Absorbance  (mAU)</text>
<text transform="translate(707,512.5) rotate(34)" x="0" y="7.5" font-family='"Liberation Serif", serif' font-size="22" text-anchor="middle">190</text>
<text transform="translate(690,539.3) rotate(34)" x="0" y="7.5" font-family='"Liberation Serif", serif' font-size="22" text-anchor="middle">260</text>
<text transform="translate(674.3,565.6) rotate(34)" x="0" y="7.5" font-family='"Liberation Serif", serif' font-size="22" text-anchor="middle">350</text>
<text transform="translate(698.9,479.8) rotate(20)" x="0" y="7" font-family='"Liberation Serif", serif' font-size="22" text-anchor="middle">λ</text>
<text transform="translate(728.2,496.8) rotate(34)" x="0" y="7" font-family='"Liberation Serif", serif' font-size="22" text-anchor="middle">(nm)</text>
</svg>
</body></html>
